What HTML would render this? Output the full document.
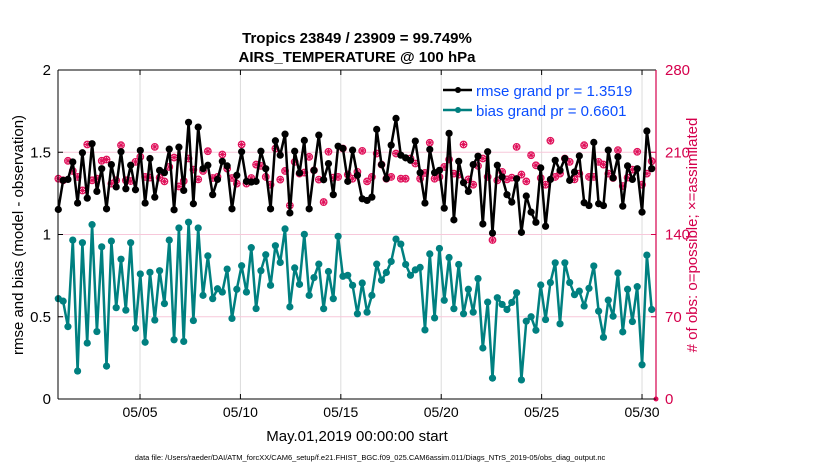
<!DOCTYPE html>
<html><head><meta charset="utf-8">
<style>
body{margin:0;background:#fff;width:830px;height:470px;overflow:hidden;font-family:"Liberation Sans",Arial,sans-serif}
</style></head><body>
<svg id="chart" width="830" height="470" xmlns="http://www.w3.org/2000/svg" font-family="Liberation Sans, Arial, sans-serif">
<g id="grid"></g>
<g id="series"></g>
<g id="axes"></g>
<text x="357" y="43" text-anchor="middle" font-size="15" font-weight="bold">Tropics 23849 / 23909 = 99.749%</text>
<text x="357" y="62" text-anchor="middle" font-size="15" font-weight="bold">AIRS_TEMPERATURE @ 100 hPa</text>
<text x="357" y="441" text-anchor="middle" font-size="15">May.01,2019 00:00:00 start</text>
<text x="370" y="460" text-anchor="middle" font-size="7.5">data file: /Users/raeder/DAI/ATM_forcXX/CAM6_setup/f.e21.FHIST_BGC.f09_025.CAM6assim.011/Diags_NTrS_2019-05/obs_diag_output.nc</text>
<text transform="translate(23,235) rotate(-90)" text-anchor="middle" font-size="15">rmse and bias (model - observation)</text>
<text transform="translate(697,235) rotate(-90)" text-anchor="middle" font-size="15" fill="#d5004c"># of obs: o=possible; ×=assimilated</text>
<g>
 <line x1="443" y1="90" x2="472" y2="90" stroke="#000" stroke-width="2.5"/>
 <circle cx="458" cy="90" r="3" fill="#000"/>
 <text x="476" y="96" font-size="15" fill="#0a4dff">rmse grand pr = 1.3519</text>
 <line x1="443" y1="110" x2="472" y2="110" stroke="#007f7f" stroke-width="2.5"/>
 <circle cx="458" cy="110" r="3" fill="#007f7f"/>
 <text x="476" y="116" font-size="15" fill="#0a4dff">bias grand pr = 0.6601</text>
</g>
</svg>
<script>
const rmse=[1.152,1.329,1.335,1.441,1.191,1.497,1.221,1.552,1.262,1.40,1.156,1.425,1.289,1.503,1.278,1.421,1.272,1.511,1.191,1.462,1.227,1.39,1.376,1.519,1.15,1.531,1.268,1.682,1.187,1.653,1.40,1.421,1.242,1.335,1.445,1.417,1.156,1.36,1.503,1.323,1.319,1.323,1.506,1.40,
1.156,1.57,1.482,1.61,1.131,1.506,1.374,1.572,1.156,1.39,1.604,1.333,1.431,1.242,1.537,1.523,1.323,1.513,1.36,1.217,1.207,1.227,1.639,1.425,1.339,1.543,1.706,1.482,1.466,1.451,1.568,1.376,1.191,1.517,1.376,1.39,1.16,1.615,1.089,1.445,1.315,
1.262,1.425,1.476,1.064,1.503,1.009,1.421,1.35,1.242,1.197,1.339,1.013,1.234,1.136,1.074,1.405,1.05,1.335,1.451,1.39,1.462,1.329,1.38,1.478,1.193,1.176,1.56,1.187,1.176,1.513,1.344,1.472,1.172,1.417,1.335,1.40,1.136,1.629,1.40];
const bias=[0.61,0.595,0.44,0.966,0.17,0.95,0.34,1.06,0.41,0.925,0.20,0.96,0.555,0.85,0.54,0.95,0.43,0.76,0.345,0.77,0.48,0.78,0.58,0.966,0.36,1.04,0.35,1.075,0.477,1.04,0.63,0.87,0.61,0.67,0.65,0.79,0.49,0.667,0.81,0.65,0.92,0.55,0.78,0.877,
0.691,0.932,0.83,1.034,0.56,0.797,0.697,1.001,0.63,0.738,0.82,0.549,0.775,0.61,0.989,0.746,0.752,0.691,0.518,0.705,0.528,0.63,0.82,0.722,0.769,0.836,0.972,0.942,0.818,0.752,0.785,0.80,0.42,0.882,0.493,0.915,0.60,0.86,0.549,0.818,0.518,
0.667,0.528,0.732,0.31,0.589,0.127,0.616,0.575,0.544,0.587,0.646,0.116,0.473,0.50,0.418,0.693,0.483,0.708,0.828,0.457,0.828,0.708,0.634,0.656,0.565,0.673,0.809,0.534,0.375,0.601,0.503,0.766,0.408,0.667,0.471,0.683,0.208,0.875,0.544];
const nobs=[187.5,186.1,202.7,194.1,189,177.5,216.6,186.1,187.5,202.7,203.8,183.3,186.1,216,186.1,185.5,201.8,206.1,189,188.4,214.6,188.4,185.2,197.5,205.5,180.9,185.5,204.7,195.2,186.9,194.1,210.9,188.1,189,208.1,196.1,188.1,183.3,216.6,183.3,188.1,199.5,198.4,189,
182.4,213.2,186.7,194.1,164.7,201.8,191.8,192.7,206.1,194.6,186.7,167.6,210.4,188.4,189,213.2,191,187.5,193.3,211.2,185.2,189,208.9,199.5,187.5,189,208.9,187.5,187.5,204.7,200.4,187.5,192.4,218.1,187.5,189,197.5,203.8,191.8,191,216.6,
186.9,182.4,198.4,204.7,189,135.3,186.1,193.3,186.9,188.4,214.6,191,185.2,207.5,198.9,188.1,182.4,219.8,189,191.8,204.7,201.8,186.9,191.8,216,189,189,201.8,199.5,191.8,188.1,211.8,181.3,188.4,195.2,210.4,182.4,191.8,202.4];
const dayTicks=[5,10,15,20,25,30];
const dayLabels=["05/05","05/10","05/15","05/20","05/25","05/30"];
const leftTicks=[0,0.5,1,1.5,2];
const rightTicks=[0,70,140,210,280];

const NS="http://www.w3.org/2000/svg";
const X0=58,X1=656,Y0=70,Y1=399;
const dayPx=20.08, day0x=59.7;
function xDay(d){return day0x+(d-1)*dayPx;}
const firstX=58.3,lastX=651.7;
function xIdx(i,n){return firstX+(lastX-firstX)*i/(n-1);}
function yL(v){return Y1-(v/2)*(Y1-Y0);}
function yR(c){return Y1-(c/280)*(Y1-Y0);}
function mk(tag,attrs,parent){const e=document.createElementNS(NS,tag);for(const k in attrs)e.setAttribute(k,attrs[k]);parent.appendChild(e);return e;}
const grid=document.getElementById('grid'),ser=document.getElementById('series'),ax=document.getElementById('axes');

dayTicks.forEach((d,i)=>{
 const x=xDay(d);
 const g=mk('line',{x1:x,y1:Y0,x2:x,y2:Y1,stroke:'#dcdcdc','stroke-width':1},grid);
 
 
 const t=mk('line',{x1:x,y1:Y1,x2:x,y2:Y1-5,stroke:'#000'},ax);
 
 
 const t2=mk('line',{x1:x,y1:Y0,x2:x,y2:Y0+5,stroke:'#000'},ax);
 
 
 const l=mk('text',{x:x,y:417,'text-anchor':'middle','font-size':14},ax);
 l.textContent=dayLabels[i];
 
 
});
leftTicks.forEach(v=>{
 const y=yL(v);
 if(v>0&&v<2){const g=mk('line',{x1:X0,y1:y,x2:X1,y2:y,stroke:'#f7c8da','stroke-width':1},grid);
 
 }
 const l=mk('text',{x:51,y:y+5,'text-anchor':'end','font-size':15},ax);
 l.textContent=String(v);
 
 
 const t=mk('line',{x1:X0,y1:y,x2:X0+5,y2:y,stroke:'#000'},ax);
 
 
});
rightTicks.forEach(c=>{
 const y=yR(c);
 const l=mk('text',{x:665,y:y+5,'font-size':15,fill:'#d5004c'},ax);
 l.textContent=String(c);
 
 
 const t=mk('line',{x1:X1,y1:y,x2:X1-5,y2:y,stroke:'#d5004c'},ax);
 
 
});
let a=mk('line',{x1:X0,y1:Y0,x2:X0,y2:Y1,stroke:'#000','stroke-width':1},ax);

a=mk('line',{x1:X0,y1:Y1,x2:X1,y2:Y1,stroke:'#000','stroke-width':1},ax);

a=mk('line',{x1:X0,y1:Y0,x2:X1,y2:Y0,stroke:'#000','stroke-width':1},ax);

a=mk('line',{x1:X1,y1:Y0,x2:X1,y2:Y1,stroke:'#d5004c','stroke-width':1.2},ax);


// obs markers
nobs.forEach((c,i)=>{
 const x=xIdx(i,nobs.length),y=yR(c);
 const g=mk('g',{},ser);
 
 
 mk('circle',{cx:x,cy:y,r:3.3,fill:'none',stroke:'#e0105a','stroke-width':1.2},g);
 mk('path',{d:`M${x-3} ${y}H${x+3}M${x} ${y-3}V${y+3}M${x-2.2} ${y-2.2}L${x+2.2} ${y+2.2}M${x-2.2} ${y+2.2}L${x+2.2} ${y-2.2}`,stroke:'#e0105a','stroke-width':1},g);
});
const endMark=mk('circle',{cx:X1,cy:Y1,r:2.5,fill:'#e0105a'},ser);



function drawLine(vals,col,name){
 const pts=vals.map((v,i)=>xIdx(i,vals.length).toFixed(1)+','+yL(v).toFixed(1)).join(' ');
 const p=mk('polyline',{points:pts,fill:'none',stroke:col,'stroke-width':2.5,'stroke-linejoin':'round'},ser);
 
 
 vals.forEach((v,i)=>{
  const c=mk('circle',{cx:xIdx(i,vals.length),cy:yL(v),r:3.6,fill:col},ser);
  
  
 });
}
drawLine(rmse,'#000','rmse');
drawLine(bias,'#008080','bias');
</script>
</body></html>
